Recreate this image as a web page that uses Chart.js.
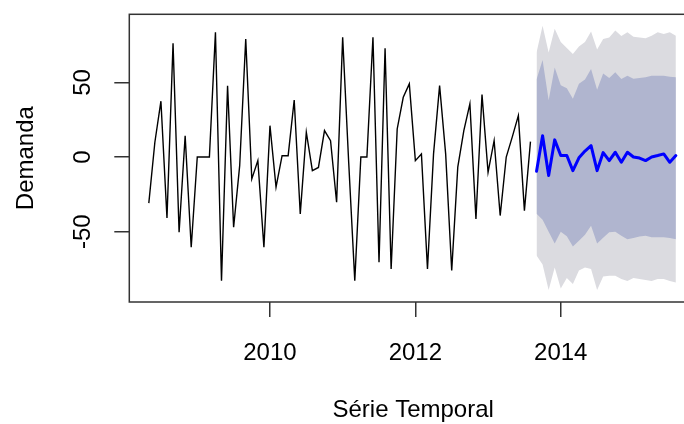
<!DOCTYPE html>
<html>
<head>
<meta charset="utf-8">
<script src="https://cdn.jsdelivr.net/npm/chart.js@4.4.1/dist/chart.umd.min.js"></script>
<style>
  html, body { margin: 0; padding: 0; background: #fff; overflow: hidden; }
  #wrap { width: 710px; height: 424px; }
</style>
</head>
<body>
<div id="wrap"><canvas id="grafico" width="710" height="424"></canvas></div>
<script>
// 1. Dados (série mensal: mai/2008 a ago/2013, previsão set/2013 a ago/2015)
const inicioSerie = 2008 + 4 / 12;
const inicioPrevisao = 2013 + 8 / 12;

const demanda = [-30.9, 9.9, 37.4, -40.8, 76.2, -50.4, 14.3, -60.4, 0, 0,
    0, 83.6, -82.8, 47.8, -47, -5.8, 79.1, -14.7, -2.4, -60.4,
    21, -20.2, 0.9, 0.9, 38.2, -38.1, 16.6, -9.1, -7, 17.7,
    11, -30.3, 80.2, -4, -82.8, 0, 0, 80.2, -70.5, 72.9,
    -75, 18.8, 40, 49, -2.4, 2, -75, 2.1, 47.8, 2.1,
    -76, -6.8, 17.7, 35.6, -41.5, 41.8, -10.2, 11, -39.2, 0,
    13.5, 27.7, -35.9, 10.3];

const previsao = [-9.5, 14.3, -12.4, 11.5, 1, 1, -9.1, -0.5, 4, 7.6, -9.1, 3,
    -2.4, 3.2, -3.5, 3.2, 0, -0.7, -2.4, 0, 1, 2.1, -3.5, 1];
const hi80 = [52, 65, 38, 60, 48, 46, 39, 49, 52, 59, 45, 56,
    53, 56.8, 52.3, 54.5, 52.5, 53, 53.4, 54.5, 54.5, 54.5, 53.8, 53.4];
const lo80 = [-38, -42, -50, -58, -50, -53, -60, -56, -52, -46, -58, -54,
    -50.4, -50, -52.7, -55, -54.3, -53.3, -52.7, -53.8, -53.8, -53.8, -54.3, -55];
const hi95 = [70, 88, 70, 86, 77, 73, 69, 74, 77, 84, 72, 79,
    80, 84.7, 81, 83.6, 80.6, 80, 79.6, 81.3, 83.6, 82.4, 83.6, 81.3];
const lo95 = [-66, -72, -89, -74, -88, -81, -85, -76, -74, -75, -89, -80,
    -79.5, -79.5, -81.7, -83, -81, -81.7, -82.4, -83, -81.7, -81.7, -83, -84];

const anosTicks = [2010, 2012, 2014];
const demandaTicks = [-50, 0, 50];

// transforma os valores mensais em pontos {x: ano, y: valor}
function pontos(inicio, valores) {
    return valores.map((v, i) => ({ x: inicio + i / 12, y: v }));
}

// 2. Moldura, rótulos e títulos no estilo do R
const fonte = '24px "Liberation Sans", Arial, sans-serif';
const moldura = {
    id: 'moldura',
    afterDraw(chart) {
        const { ctx, chartArea: a, scales } = chart;
        ctx.save();
        ctx.strokeStyle = '#333';
        ctx.lineWidth = 1.5;
        ctx.strokeRect(a.left, a.top, a.right - a.left, a.bottom - a.top);

        ctx.fillStyle = '#000';
        ctx.font = fonte;
        ctx.textAlign = 'center';
        ctx.textBaseline = 'alphabetic';
        anosTicks.forEach(t => ctx.fillText(String(t), scales.x.getPixelForValue(t), 360));
        demandaTicks.forEach(t => {
            ctx.save();
            ctx.translate(89.5, scales.y.getPixelForValue(t));
            ctx.rotate(-Math.PI / 2);
            ctx.fillText(String(t), 0, 0);
            ctx.restore();
        });
        ctx.fillText('Série Temporal', (a.left + a.right) / 2, 417);
        ctx.translate(33, (a.top + a.bottom) / 2);
        ctx.rotate(-Math.PI / 2);
        ctx.fillText('Demanda', 0, 0);
        ctx.restore();
    }
};

const marcas = { drawOnChartArea: false, tickLength: 15, color: '#333', lineWidth: 1.5 };

// 3. Gráfico
new Chart(document.getElementById('grafico'), {
    type: 'line',
    data: {
        datasets: [
            { data: pontos(inicioSerie, demanda), borderColor: '#000', borderWidth: 1.4, pointRadius: 0, fill: false },
            { data: pontos(inicioPrevisao, previsao), borderColor: '#0000ff', borderWidth: 3, pointRadius: 0, fill: false,
              borderJoinStyle: 'round', borderCapStyle: 'round' },
            { data: pontos(inicioPrevisao, hi80), borderWidth: 0, pointRadius: 0, fill: '+1', backgroundColor: '#b0b5cf' },
            { data: pontos(inicioPrevisao, lo80), borderWidth: 0, pointRadius: 0, fill: false },
            { data: pontos(inicioPrevisao, hi95), borderWidth: 0, pointRadius: 0, fill: '+1', backgroundColor: '#dbdbe0' },
            { data: pontos(inicioPrevisao, lo95), borderWidth: 0, pointRadius: 0, fill: false }
        ]
    },
    options: {
        responsive: false,
        animation: false,
        devicePixelRatio: 1,
        layout: { padding: { top: 14.3, right: 13, left: 0, bottom: 0 } },
        plugins: { legend: { display: false }, tooltip: { enabled: false } },
        elements: { line: { tension: 0 } },
        scales: {
            x: {
                type: 'linear', min: 2008.065, max: 2015.874,
                afterBuildTicks: s => { s.ticks = anosTicks.map(v => ({ value: v })); },
                afterFit: s => { s.height = 122; },
                ticks: { display: false },
                grid: marcas,
                border: { display: false }
            },
            y: {
                min: -97.1, max: 95.6,
                afterBuildTicks: s => { s.ticks = demandaTicks.map(v => ({ value: v })); },
                afterFit: s => { s.width = 129.3; },
                ticks: { display: false },
                grid: marcas,
                border: { display: false }
            }
        }
    },
    plugins: [moldura]
});
</script>
</body>
</html>
